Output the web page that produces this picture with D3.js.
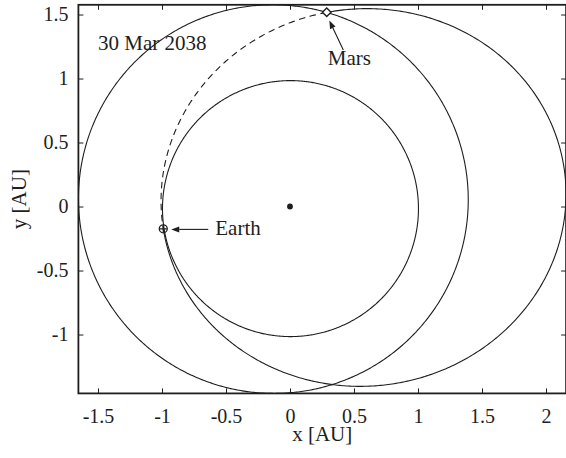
<!DOCTYPE html>
<html>
<head>
<meta charset="utf-8">
<script src="https://cdn.jsdelivr.net/npm/d3@7"></script>
<style>
  html, body { margin: 0; padding: 0; background: #fff; }
  svg { display: block; }
  svg text { font-family: "Liberation Serif", "Times New Roman", serif; fill: #1e1e1e; }
</style>
</head>
<body>
<svg id="chart" width="566" height="458"></svg>
<script>
// Heliocentric orbits in the ecliptic plane (AU, degrees)
const orbitNames = ["Earth", "Mars", "Transfer"];
const semiMajorAU = [1.0000, 1.5237, 1.5835];
const eccentricity = [0.0167, 0.0934, 0.3656];
const perihelionLongitude = [102.9, 336.0, 187.0];

// Leg of the transfer orbit actually flown: Mars departure -> Earth arrival (true longitude, deg)
const transferLeg = [79.3, 190.0];

// Body positions on the date shown (AU)
const bodyNames = ["Earth", "Mars"];
const bodyX = [-0.990, 0.287];
const bodyY = [-0.174, 1.518];
const sunX = [0];
const sunY = [0];

const dateLabel = "30 Mar 2038";
const xTicks = [-1.5, -1, -0.5, 0, 0.5, 1, 1.5, 2];
const yTicks = [-1, -0.5, 0, 0.5, 1, 1.5];
const xLimits = [-1.653, 2.157];
const yLimits = [-1.460, 1.576];

const ink = "#1e1e1e";
const tickFont = 20;
const labelFont = 21;
const serif = '"Liberation Serif", "Times New Roman", serif';

const svg = d3.select("#chart");
const plotLeft = 78.4, plotRight = 566.1, plotTop = 4.8, plotBottom = 393.4;

// Equal-aspect axes (128 px per AU on both)
const x = d3.scaleLinear().domain(xLimits).range([plotLeft, plotRight]);
const y = d3.scaleLinear().domain(yLimits).range([plotBottom, plotTop]);

svg.append("defs").append("clipPath").attr("id", "plotArea")
  .append("rect")
  .attr("x", plotLeft).attr("y", plotTop)
  .attr("width", plotRight - plotLeft).attr("height", plotBottom - plotTop);

// Points of a Keplerian orbit (focus at the Sun) between two true longitudes
function orbitPoints(i, fromDeg, toDeg) {
  const a = semiMajorAU[i], e = eccentricity[i], w = perihelionLongitude[i];
  const p = a * (1 - e * e);
  const n = Math.max(2, Math.ceil(Math.abs(toDeg - fromDeg) * 2));
  return d3.range(n + 1).map(k => {
    const th = fromDeg + (toDeg - fromDeg) * k / n;
    const r = p / (1 + e * Math.cos((th - w) * Math.PI / 180));
    return [r * Math.cos(th * Math.PI / 180), r * Math.sin(th * Math.PI / 180)];
  });
}

const line = d3.line().x(d => x(d[0])).y(d => y(d[1]));
const plot = svg.append("g").attr("clip-path", "url(#plotArea)");

// Full planetary orbits
[0, 1].forEach(i => {
  plot.append("path")
    .attr("d", line(orbitPoints(i, 0, 360)))
    .attr("fill", "none").attr("stroke", ink).attr("stroke-width", 1.1);
});

// Transfer orbit: solid for the remainder, dashed for the flown leg
const ti = orbitNames.indexOf("Transfer");
plot.append("path")
  .attr("d", line(orbitPoints(ti, transferLeg[1], transferLeg[0] + 360)))
  .attr("fill", "none").attr("stroke", ink).attr("stroke-width", 1.1);
plot.append("path")
  .attr("d", line(orbitPoints(ti, transferLeg[0], transferLeg[1])))
  .attr("fill", "none").attr("stroke", ink).attr("stroke-width", 1.1)
  .attr("stroke-dasharray", "6.5,4.5");

// Sun
plot.selectAll("circle.sun").data(sunX).join("circle")
  .attr("class", "sun")
  .attr("cx", d => x(d)).attr("cy", (d, i) => y(sunY[i]))
  .attr("r", 2.9).attr("fill", ink);

// Earth marker: circle with cross
const ex = x(bodyX[0]), ey = y(bodyY[0]);
svg.append("circle").attr("cx", ex).attr("cy", ey).attr("r", 4)
  .attr("fill", "none").attr("stroke", ink).attr("stroke-width", 1.3);
svg.append("path")
  .attr("d", `M${ex - 3.5},${ey}H${ex + 3.5}M${ex},${ey - 3.5}V${ey + 3.5}`)
  .attr("stroke", ink).attr("stroke-width", 1.2);

// Mars marker: open diamond
const mx = x(bodyX[1]), my = y(bodyY[1]);
svg.append("path")
  .attr("d", `M${mx},${my - 4.3}L${mx + 4.3},${my}L${mx},${my + 4.3}L${mx - 4.3},${my}Z`)
  .attr("fill", "#fff").attr("stroke", ink).attr("stroke-width", 1.4);

// Annotation arrows
function arrow(x1, y1, x2, y2) {
  const ang = Math.atan2(y2 - y1, x2 - x1);
  const L = 8, W = 3;
  const bx = x2 - L * Math.cos(ang), by = y2 - L * Math.sin(ang);
  svg.append("line")
    .attr("x1", x1).attr("y1", y1).attr("x2", bx).attr("y2", by)
    .attr("stroke", ink).attr("stroke-width", 1.1);
  svg.append("path")
    .attr("d", `M${x2},${y2}L${bx + W * Math.sin(ang)},${by - W * Math.cos(ang)}L${bx - W * Math.sin(ang)},${by + W * Math.cos(ang)}Z`)
    .attr("fill", ink);
}
arrow(ex + 45, ey + 0.6, ex + 8, ey + 0.6);
arrow(mx + 16.6, my + 37.7, mx + 2.6, my + 8.4);

function label(xp, yp, str, size) {
  return svg.append("text").attr("x", xp).attr("y", yp)
    .style("font-family", serif).style("font-size", size + "px").style("fill", ink)
    .text(str);
}
label(ex + 52, ey + 6.5, bodyNames[0], labelFont);
label(mx + 1, my + 52.5, bodyNames[1], labelFont);
label(98, 50, dateLabel, labelFont);

// Axes with inward ticks on all four sides
function styleAxis(g) {
  g.attr("font-family", null).attr("font-size", null);
  g.select(".domain").remove();
  g.selectAll(".tick line").attr("stroke", ink).attr("stroke-width", 1);
  g.selectAll(".tick text")
    .style("font-family", serif).style("font-size", tickFont + "px").style("fill", ink);
}
svg.append("g").attr("transform", `translate(0,${plotBottom})`)
  .call(d3.axisBottom(x).tickValues(xTicks).tickFormat(String)
    .tickSizeInner(-5).tickSizeOuter(0).tickPadding(15))
  .call(styleAxis);
svg.append("g").attr("transform", `translate(${plotLeft},0)`)
  .call(d3.axisLeft(y).tickValues(yTicks).tickFormat(String)
    .tickSizeInner(-5).tickSizeOuter(0).tickPadding(10))
  .call(styleAxis);
svg.append("g").attr("transform", `translate(0,${plotTop})`)
  .call(d3.axisTop(x).tickValues(xTicks).tickFormat("")
    .tickSizeInner(-5).tickSizeOuter(0))
  .call(styleAxis);
svg.append("g").attr("transform", `translate(${plotRight},0)`)
  .call(d3.axisRight(y).tickValues(yTicks).tickFormat("")
    .tickSizeInner(-5).tickSizeOuter(0))
  .call(styleAxis);

svg.append("rect")
  .attr("x", plotLeft).attr("y", plotTop)
  .attr("width", plotRight - plotLeft).attr("height", plotBottom - plotTop)
  .attr("fill", "none").attr("stroke", ink).attr("stroke-width", 1.8);

// Axis titles
label((plotLeft + plotRight) / 2, 441, "x [AU]", labelFont)
  .attr("text-anchor", "middle");
svg.append("text")
  .attr("transform", `translate(25.5,${(plotTop + plotBottom) / 2}) rotate(-90)`)
  .attr("text-anchor", "middle")
  .style("font-family", serif).style("font-size", labelFont + "px").style("fill", ink)
  .text("y [AU]");
</script>
</body>
</html>
